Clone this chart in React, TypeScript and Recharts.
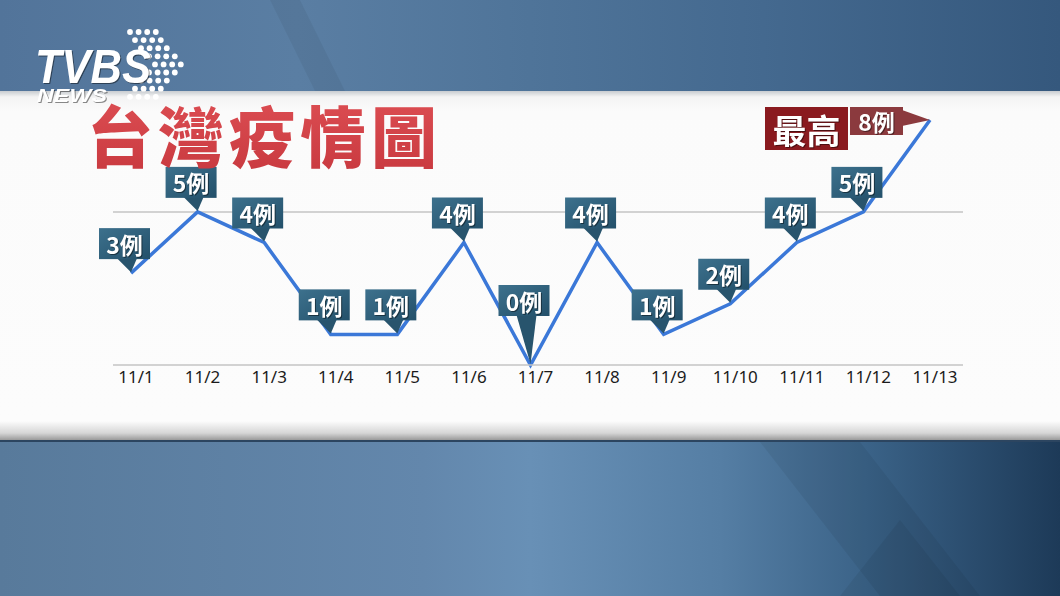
import React from 'react'
import { LineChart, Line, XAxis, YAxis, ReferenceLine } from 'recharts'

// daily new cases, 11/1 - 11/13
const dates = ['11/1', '11/2', '11/3', '11/4', '11/5', '11/6', '11/7', '11/8', '11/9', '11/10', '11/11', '11/12', '11/13']
const cases = [3, 5, 4, 1, 1, 4, 0, 4, 1, 2, 4, 5, 8]
const gridValues = [5]
const title = '台灣疫情圖'
const peakText = '最高'
const unit = '例'

const data = dates.map((date, i) => ({ date, cases: cases[i] }))
const peak = Math.max(...cases)

const CJK = '"Noto Sans CJK TC", "Noto Sans CJK SC", sans-serif'
const shadow = { filter: 'drop-shadow(1px 1px 0.5px rgba(0,0,0,0.45))' }

const CaseLabel = (props: any) => {
  const { x, y, value } = props
  if (x == null || y == null) return null

  if (value === peak) {
    return (
      <g>
        <rect x={x - 165} y={y - 13} width={83} height={43} fill="#8a1a1f" />
        <text x={x - 123.5} y={y + 9} textAnchor="middle" dominantBaseline="central" fill="#fff" fontSize={34} fontWeight={700}
          fontFamily={CJK} style={shadow}>
          {peakText}
        </text>
        <rect x={x - 80} y={y - 13} width={53} height={28} fill="#8b3a3e" />
        <polygon points={`${x - 28},${y - 10} ${x},${y} ${x - 28},${y + 6}`} fill="#8b3a3e" />
        <text x={x - 53.5} y={y + 1} textAnchor="middle" dominantBaseline="central" fill="#fff" fontSize={23} fontWeight={700}
          fontFamily={CJK} style={shadow}>
          {value}{unit}
        </text>
      </g>
    )
  }

  const lift = value === 0 ? 49 : 14
  const bottom = y - lift
  const left = x - 32
  return (
    <g>
      <defs>
        <linearGradient id="boxFill" x1="0" y1="0" x2="1" y2="1">
          <stop offset="0%" stopColor="#3d718d" />
          <stop offset="100%" stopColor="#23506a" />
        </linearGradient>
      </defs>
      <polygon points={`${x - 14},${bottom - 1} ${x + 6},${bottom - 1} ${x},${y - 1}`} fill="#28546d" />
      <rect x={left} y={bottom - 31} width={51} height={31} fill="url(#boxFill)" />
      <text x={left + 25.5} y={bottom - 15.5} textAnchor="middle" dominantBaseline="central" fill="#fff" fontSize={23} fontWeight={700}
        fontFamily={CJK} style={shadow}>
        {value}{unit}
      </text>
    </g>
  )
}

const DateTick = (props: any) => {
  const { x, y, payload } = props
  return (
    <text x={x + 5} y={y} dy="0.71em" textAnchor="middle" fill="#1b1b1b" fontSize={17} fontFamily="Noto Sans, sans-serif">
      {payload.value}
    </text>
  )
}

const dotRows = [130, 135, 141, 149, 155, 149, 141, 135, 130]

const Logo = () => (
  <g>
    {dotRows.map((sx, r) =>
      [0, 1, 2, 3].map((k) => (
        <circle key={`${r}-${k}`} cx={sx + k * 8.6} cy={32 + r * 8.1} r={2.9} fill="#fff" />
      ))
    )}
    <text x={35} y={83} fill="#fff" fontSize={48} fontWeight={700} fontStyle="italic" fontFamily="Liberation Sans, sans-serif"
      textLength={116} lengthAdjust="spacingAndGlyphs" style={shadow}>
      TVBS
    </text>
    <text x={37} y={102} fill="#fff" fontSize={18} fontWeight={700} fontStyle="italic" fontFamily="Liberation Sans, sans-serif"
      textLength={70} lengthAdjust="spacingAndGlyphs" style={shadow}>
      NEWS
    </text>
  </g>
)

export default function App() {
  return (
    <div style={{ position: 'absolute', left: 0, top: 0, width: 1060, height: 596, overflow: 'hidden' }}>
      <div style={{ position: 'absolute', left: 0, top: 0, width: 1060, height: 91,
        background: 'linear-gradient(90deg, #52749a 0%, #5a7ea3 28%, #4f7499 50%, #44698f 72%, #35587d 100%)' }} />
      <div style={{ position: 'absolute', left: 0, top: 91, width: 1060, height: 349,
        background: 'linear-gradient(180deg, #c8ccd0 0px, #f4f4f4 6px, #fbfbfb 20px, #fcfcfc 330px, #d6d6d6 342px, #9a9a9a 349px)' }} />
      <div style={{ position: 'absolute', left: 0, top: 440, width: 1060, height: 2, background: '#2c4560' }} />
      <div style={{ position: 'absolute', left: 0, top: 442, width: 1060, height: 154,
        background: 'linear-gradient(90deg, #587a9b 0%, #6387ac 40%, #6890b6 50%, #557ea4 68%, #3a6287 82%, #1d3a58 100%)' }} />
      <svg width={1060} height={596} style={{ position: 'absolute', left: 0, top: 0 }}>
        <polygon points="270,0 300,0 345,91 315,91" fill="#000" opacity={0.05} />
        <polygon points="760,442 860,442 980,596 880,596" fill="#000" opacity={0.06} />
        <polygon points="900,520 960,596 840,596" fill="#000" opacity={0.06} />
      </svg>

      <div style={{ position: 'absolute', left: 0, top: 0 }}>
        <LineChart width={1060} height={596} data={data} margin={{ top: 120, right: 97, bottom: 201, left: 113 }}>
          <XAxis dataKey="date" height={30} padding={{ left: 18, right: 33 }} axisLine={{ stroke: '#c4c4c4', strokeWidth: 1.5 }}
            tickLine={false} tickMargin={0} tick={<DateTick />} interval={0} />
          <YAxis hide width={0} domain={[0, peak]} />
          {gridValues.map((v) => (
            <ReferenceLine key={v} y={v} stroke="#c4c4c4" strokeWidth={1.5} />
          ))}
          <Line type="linear" dataKey="cases" stroke="#3b78d8" strokeWidth={3.5} dot={false} isAnimationActive={false}
            label={<CaseLabel />} />
        </LineChart>
      </div>

      <svg width={1060} height={596} style={{ position: 'absolute', left: 0, top: 0, pointerEvents: 'none' }}>
        <defs>
          <linearGradient id="titleFill" x1="0" y1="0" x2="0" y2="1">
            <stop offset="0%" stopColor="#df5055" />
            <stop offset="100%" stopColor="#c7383e" />
          </linearGradient>
        </defs>
        <Logo />
        <text x={87} y={162} fill="url(#titleFill)" fontSize={66} fontWeight={900} fontFamily={CJK} letterSpacing={5}>
          {title}
        </text>
      </svg>
    </div>
  )
}
